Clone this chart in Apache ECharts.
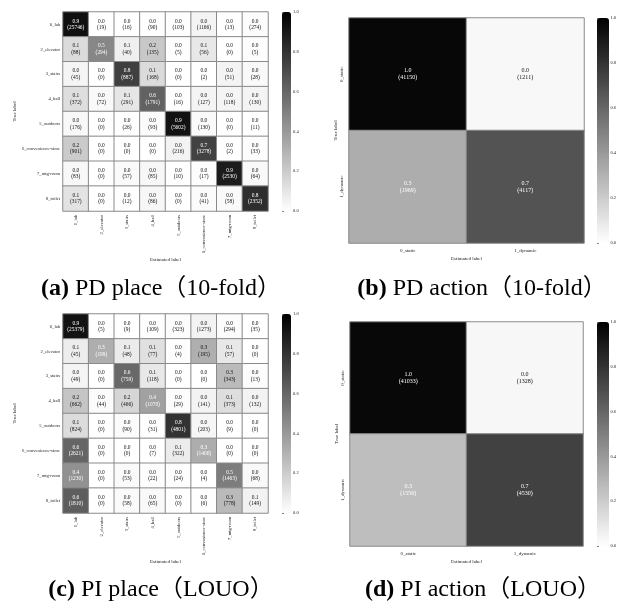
<!DOCTYPE html>
<html>
<head>
<meta charset="utf-8">
<script src="https://cdn.jsdelivr.net/npm/echarts@6/dist/echarts.min.js"></script>
<style>
  html, body { margin: 0; padding: 0; background: #fff; }
  #chart { width: 619px; height: 610px; }
</style>
</head>
<body>
<div id="chart"></div>
<script>
// categories
const placeLabels = ['0_lab', '2_elevator', '3_stairs', '4_hall', '5_outdoors', '6_convenience-store', '7_mtg-room', '8_toilet']
const actionLabels = ['0_static', '1_dynamic']

// confusion matrix counts (rows = true label, cols = estimated label)
const pdPlaceCounts = [
  [25746, 19, 16, 90, 103, 1166, 13, 274],
  [88, 294, 40, 135, 5, 56, 0, 5],
  [45, 0, 887, 168, 0, 2, 51, 28],
  [372, 72, 291, 1791, 16, 127, 118, 130],
  [176, 0, 26, 93, 5602, 130, 0, 11],
  [901, 0, 0, 0, 216, 3278, 2, 33],
  [83, 0, 57, 85, 10, 17, 2530, 64],
  [317, 0, 12, 86, 0, 41, 58, 2352],
]
const pdActionCounts = [
  [41150, 1211],
  [1969, 4117],
]
const piPlaceCounts = [
  [25379, 5, 9, 109, 323, 1273, 294, 35],
  [45, 199, 48, 77, 4, 195, 57, 0],
  [49, 0, 759, 118, 0, 0, 343, 13],
  [662, 44, 466, 1070, 29, 141, 373, 132],
  [824, 0, 90, 31, 4801, 203, 9, 0],
  [2621, 0, 0, 7, 322, 1400, 0, 0],
  [1230, 0, 53, 22, 24, 4, 1463, 68],
  [1810, 0, 58, 65, 0, 6, 778, 149],
]
const piActionCounts = [
  [41033, 1328],
  [1556, 4530],
]
const captions = [
  ['(a)', 'PD place（10-fold）'],
  ['(b)', 'PD action（10-fold）'],
  ['(c)', 'PI place（LOUO）'],
  ['(d)', 'PI action（LOUO）'],
]

const FONT = "'Liberation Serif', 'Noto Sans CJK SC', serif"

// layout of each panel
const panels = [
  { counts: pdPlaceCounts, labels: placeLabels, grid: [63, 12, 205, 199], cb: [282, 12, 9, 199], cap: [161, 277], xGap: 46, yGap: 46, place: true },
  { counts: pdActionCounts, labels: actionLabels, grid: [349, 18, 235, 225], cb: [597, 18, 12, 225], cap: [482, 277], xGap: 13, yGap: 11, place: false },
  { counts: piPlaceCounts, labels: placeLabels, grid: [63, 314, 205, 199], cb: [282, 314, 9, 199], cap: [161, 578], xGap: 46, yGap: 46, place: true },
  { counts: piActionCounts, labels: actionLabels, grid: [350, 322, 233, 224], cb: [597, 322, 12, 224], cap: [483, 578], xGap: 13, yGap: 11, place: false },
]

function buildCells(counts, place) {
  const out = []
  counts.forEach((row, i) => {
    const sum = row.reduce((a, b) => a + b, 0)
    row.forEach((c, j) => {
      const r = c / sum
      const light = place ? (r > 0.36 || (i === j && r > 0.3)) : r > 0.25
      out.push({ value: [j, i, r, c], label: { color: light ? '#fff' : '#111' } })
    })
  })
  return out
}

const hmGrid = [], hmX = [], hmY = [], hmSeries = []
const cbGrid = [], cbX = [], cbY = [], cbSeries = []
const visualMap = []
const title = []

panels.forEach((p, k) => {
  const [gl, gt, gw, gh] = p.grid
  const [cl, ct, cw, ch] = p.cb
  const tickFont = p.place ? 4.6 : 5

  // heatmap grid
  hmGrid.push({ left: gl, top: gt, width: gw, height: gh })
  hmX.push({
    type: 'category', gridIndex: k, data: p.labels, position: 'bottom',
    axisLine: { show: false }, axisTick: { show: false }, splitArea: { show: false },
    axisLabel: { rotate: p.place ? 90 : 0, fontSize: tickFont, fontFamily: FONT, color: '#222', margin: p.place ? 4 : 5 },
    name: 'Estimated label', nameLocation: 'middle', nameGap: p.xGap,
    nameTextStyle: { fontSize: 5, fontFamily: FONT, color: '#222' },
  })
  hmY.push({
    type: 'category', gridIndex: k, data: p.labels, inverse: true,
    axisLine: { show: false }, axisTick: { show: false }, splitArea: { show: false },
    axisLabel: { rotate: p.place ? 0 : 90, fontSize: tickFont, fontFamily: FONT, color: '#222', margin: p.place ? 3 : 5 },
    name: 'True label', nameLocation: 'middle', nameGap: p.yGap, nameRotate: 90,
    nameTextStyle: { fontSize: 5, fontFamily: FONT, color: '#222' },
  })
  hmSeries.push({
    type: 'heatmap', xAxisIndex: k, yAxisIndex: k,
    data: buildCells(p.counts, p.place),
    itemStyle: { borderColor: '#8a8a8a', borderWidth: 1 },
    label: {
      show: true, fontFamily: FONT, fontSize: p.place ? 5.4 : 6, lineHeight: p.place ? 6.5 : 7,
      formatter: (d) => d.value[2].toFixed(1) + '\n(' + d.value[3] + ')',
    },
    emphasis: { disabled: true },
  })
  visualMap.push({
    type: 'continuous', seriesIndex: k, dimension: 2, min: 0, max: 1,
    left: cl, top: ct, itemWidth: cw, itemHeight: ch, padding: 0,
    calculable: false, text: null, showLabel: false, hoverLink: false,
    inRange: { color: ['#ffffff', '#000000'] },
  })

  // colorbar tick axis
  cbGrid.push({ left: cl, top: ct, width: cw, height: ch })
  cbX.push({ type: 'value', gridIndex: 4 + k, show: false })
  cbY.push({
    type: 'value', gridIndex: 4 + k, min: 0, max: 1, interval: 0.2, position: 'right',
    axisLine: { show: false }, splitLine: { show: false },
    axisTick: { show: true, length: 2, lineStyle: { color: '#333', width: 0.6 } },
    axisLabel: { fontSize: 4.5, fontFamily: FONT, color: '#222', margin: 2, formatter: (v) => v.toFixed(1) },
  })
  cbSeries.push({ type: 'scatter', xAxisIndex: 4 + k, yAxisIndex: 4 + k, data: [] })

  // caption
  title.push({
    text: '{b|' + captions[k][0] + '} ' + captions[k][1],
    left: p.cap[0], top: p.cap[1], textAlign: 'center', padding: 0,
    textStyle: {
      fontSize: 24, fontWeight: 'normal', fontFamily: FONT, color: '#000',
      rich: { b: { fontSize: 24, fontWeight: 'bold', fontFamily: FONT, color: '#000' } },
    },
  })
})

const chart = echarts.init(document.getElementById('chart'))
chart.setOption({
  animation: false,
  backgroundColor: '#fff',
  title,
  grid: hmGrid.concat(cbGrid),
  xAxis: hmX.concat(cbX),
  yAxis: hmY.concat(cbY),
  visualMap,
  series: hmSeries.concat(cbSeries),
})
window.addEventListener('resize', () => chart.resize())
</script>
</body>
</html>
